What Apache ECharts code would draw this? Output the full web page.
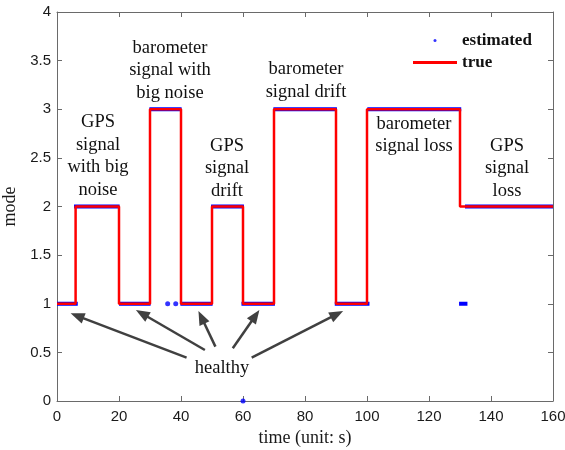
<!DOCTYPE html>
<html>
<head>
<meta charset="utf-8">
<script src="https://cdn.jsdelivr.net/npm/echarts@6/dist/echarts.min.js"></script>
<style>
html, body { margin: 0; padding: 0; background: #fff; }
#chart { width: 565px; height: 450px; }
</style>
</head>
<body>
<div id="chart"></div>
<script>
// true mode: value switches to "mode" at time "t"
var trueTimes = [0, 6, 20, 30, 40, 50, 60, 70, 90, 100, 130, 160];
var trueModes = [1, 2, 1, 3, 1, 2, 1, 3, 1, 3, 2, 2];

// estimated mode, runs of consecutive samples: start, end, mode
var estStart = [0, 5.5, 20, 29.8, 39.8, 49.7, 59.5, 69.8, 89.6, 100.1, 129.7, 131.6];
var estEnd = [6.7, 20.2, 30.2, 40.2, 50.2, 60.3, 70.3, 90.3, 100.8, 130.4, 132.4, 160];
var estMode = [1, 2, 1, 3, 1, 2, 1, 3, 1, 3, 1, 2];

// isolated estimated samples
var dotTimes = [35.7, 38.3, 60];
var dotModes = [1, 1, 0];

var xTicks = [0, 160, 20];
var yTicks = [0, 4, 0.5];

var serif = '"Liberation Serif", "Times New Roman", serif';
var sans = '"Liberation Sans", Arial, sans-serif';

var trueData = trueTimes.map(function (t, i) { return [t, trueModes[i]]; });

var estData = [];
estStart.forEach(function (s, i) {
    estData.push([s, estMode[i]]);
    estData.push([estEnd[i], estMode[i]]);
    estData.push([estEnd[i], '-']);
});

var dotData = dotTimes.map(function (t, i) { return [t, dotModes[i]]; });

// "healthy" arrows (data coords: tail -> head)
var arrows = [
    [[41.8, 0.446], [6.5, 0.876]],
    [[47.7, 0.524], [27.4, 0.900]],
    [[51.1, 0.559], [46.6, 0.861]],
    [[56.7, 0.542], [64.0, 0.877]],
    [[62.8, 0.446], [90.3, 0.893]]
];

var axisColor = '#6a6a6a';
var labelColor = '#1a1a1a';

function xAx(pos, named) {
    return {
        type: 'value', position: pos,
        min: xTicks[0], max: xTicks[1], interval: xTicks[2],
        axisLine: {show: true, onZero: false, lineStyle: {color: axisColor, width: 1}},
        axisTick: {show: true, inside: true, length: 5, lineStyle: {color: axisColor}},
        axisLabel: {show: named, color: labelColor, fontFamily: sans, fontSize: 15, margin: 8},
        splitLine: {show: false},
        name: named ? 'time (unit: s)' : '',
        nameLocation: 'middle', nameGap: 26,
        nameTextStyle: {fontFamily: serif, fontSize: 18, color: labelColor}
    };
}

function yAx(pos, named) {
    return {
        type: 'value', position: pos,
        min: yTicks[0], max: yTicks[1], interval: yTicks[2],
        axisLine: {show: true, onZero: false, lineStyle: {color: axisColor, width: 1}},
        axisTick: {show: true, inside: true, length: 5, lineStyle: {color: axisColor}},
        axisLabel: {show: named, color: labelColor, fontFamily: sans, fontSize: 15, margin: 6},
        splitLine: {show: false},
        name: named ? 'mode' : '',
        nameLocation: 'middle', nameGap: 31,
        nameTextStyle: {fontFamily: serif, fontSize: 18, color: labelColor}
    };
}

function note(text, x, y) {
    return {
        type: 'text', x: x, y: y, z: 10,
        style: {
            text: text, fill: '#111', font: '18.5px ' + serif,
            align: 'center', verticalAlign: 'top', lineHeight: 22.5
        }
    };
}

var option = {
    animation: false,
    backgroundColor: '#fff',
    grid: {left: 57, right: 12, top: 12, bottom: 49, outerBoundsMode: 'none', containLabel: false},
    xAxis: [xAx('bottom', true), xAx('top', false)],
    yAxis: [yAx('left', true), yAx('right', false)],
    legend: {
        left: 413, top: 32, orient: 'vertical', padding: 0,
        itemWidth: 44, itemHeight: 3, itemGap: 5,
        textStyle: {fontFamily: serif, fontSize: 17, fontWeight: 'bold', color: '#111'},
        data: [{name: 'estimated', icon: 'circle'}, {name: 'true', icon: 'rect'}]
    },
    graphic: [
        note('GPS\nsignal\nwith big\nnoise', 98, 111),
        note('barometer\nsignal with\nbig noise', 170, 36.5),
        note('GPS\nsignal\ndrift', 227, 134.5),
        note('barometer\nsignal drift', 306, 58),
        note('barometer\nsignal loss', 414, 112.5),
        note('GPS\nsignal\nloss', 507, 134.5),
        note('healthy', 222, 357)
    ],
    series: [
        {
            name: 'estimated', type: 'scatter',
            data: dotData, symbolSize: 5,
            itemStyle: {color: '#0000ff'}, z: 4
        },
        {
            name: 'estimated', type: 'line',
            data: estData, symbol: 'none', connectNulls: false,
            lineStyle: {color: '#0000ff', width: 4},
            itemStyle: {color: '#0000ff'}, z: 2
        },
        {
            name: 'true', type: 'line',
            data: trueData, step: 'end', symbol: 'none',
            lineStyle: {color: '#ff0000', width: 2.5},
            itemStyle: {color: '#ff0000'}, z: 3,
            markLine: {
                silent: true,
                symbol: ['none', 'triangle'],
                symbolSize: [11, 14],
                label: {show: false},
                lineStyle: {color: '#404040', width: 2.5, type: 'solid'},
                emphasis: {disabled: true},
                data: arrows.map(function (a) {
                    return [{coord: a[0]}, {coord: a[1]}];
                })
            }
        }
    ]
};

echarts.init(document.getElementById('chart')).setOption(option);
</script>
</body>
</html>
